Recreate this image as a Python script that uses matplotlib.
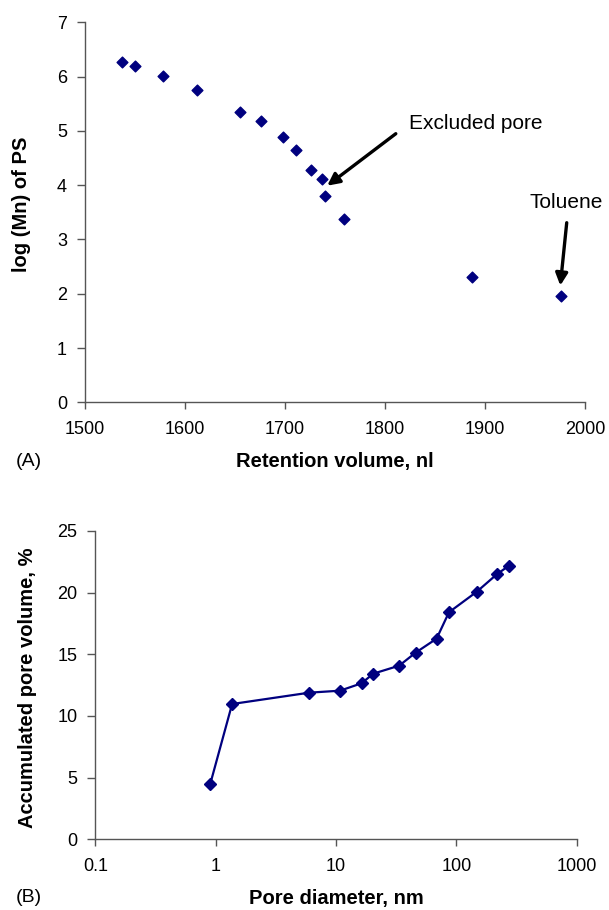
import numpy as np
import matplotlib
matplotlib.use("Agg")
import matplotlib.pyplot as plt

plt.rcParams['font.family'] = ['Liberation Sans', 'DejaVu Sans']

# Panel A: retention volume vs log(Mn) of PS standards
retention_nl = [1537, 1550, 1578, 1612, 1655, 1676, 1698, 1711, 1726, 1737,
                1740, 1759, 1887, 1976]
log_mn = [6.27, 6.20, 6.02, 5.75, 5.35, 5.18, 4.88, 4.64, 4.28, 4.12,
          3.80, 3.38, 2.31, 1.96]

# Panel B: accumulated pore volume vs pore diameter
pore_diam_nm = [0.90, 1.37, 6.0, 10.8, 16.3, 20.4, 33.5, 45.8, 68.5, 86.8,
                148, 217, 272]
acc_volume = [4.46, 10.97, 11.89, 12.05, 12.65, 13.43, 14.08, 15.13, 16.27,
              18.41, 20.08, 21.49, 22.17]

navy = '#00007f'
spine_col = '#555555'


def style_axes(ax):
    for s in ['top', 'right']:
        ax.spines[s].set_visible(False)
    for s in ['left', 'bottom']:
        ax.spines[s].set_color(spine_col)
        ax.spines[s].set_linewidth(1.0)
    ax.tick_params(direction='out', width=1.0, color=spine_col, labelsize=13)
    ax.tick_params(axis='x', length=5, pad=8.5)
    ax.tick_params(axis='y', length=6, pad=7)


fig = plt.figure(figsize=(6.09, 9.10), dpi=100)

# (A)
ax1 = fig.add_axes([0.1396, 0.5579, 0.821, 0.4175])
ax1.scatter(retention_nl, log_mn, marker='D', s=30, color=navy, zorder=3)
ax1.set_xlim(1500, 2000)
ax1.set_ylim(0, 7)
ax1.set_xticks(np.arange(1500, 2001, 100))
ax1.set_yticks(np.arange(0, 8, 1))
style_axes(ax1)
ax1.set_xlabel('Retention volume, nl', fontsize=14.5, fontweight='bold', labelpad=10)
ax1.set_ylabel('log (Mn) of PS', fontsize=14.5, fontweight='bold')
ax1.yaxis.set_label_coords(-0.108, 0.52)

ax1.annotate('', xy=(1740, 3.96), xytext=(1813, 4.98),
             arrowprops=dict(arrowstyle='-|>', color='black', lw=2.4,
                             mutation_scale=18))
ax1.text(1891, 5.14, 'Excluded pore', fontsize=15, ha='center', va='center')
ax1.annotate('', xy=(1975, 2.10), xytext=(1982, 3.36),
             arrowprops=dict(arrowstyle='-|>', color='black', lw=2.4,
                             mutation_scale=18))
ax1.text(1981, 3.69, 'Toluene', fontsize=15, ha='center', va='center')

fig.text(16 / 609, 1 - 462 / 910, '(A)', fontsize=14, ha='left', va='center')

# (B)
ax2 = fig.add_axes([0.1565, 0.0777, 0.7905, 0.3388])
ax2.plot(pore_diam_nm, acc_volume, color=navy, lw=1.6, marker='D',
         markersize=6, zorder=3)
ax2.set_xscale('log')
ax2.set_xlim(0.1, 1000)
ax2.set_ylim(0, 25)
ax2.set_xticks([0.1, 1, 10, 100, 1000])
ax2.set_xticklabels(['0.1', '1', '10', '100', '1000'])
ax2.minorticks_off()
ax2.set_yticks(np.arange(0, 26, 5))
style_axes(ax2)
ax2.set_xlabel('Pore diameter, nm', fontsize=14.5, fontweight='bold', labelpad=10)
ax2.set_ylabel('Accumulated pore volume, %', fontsize=14.5, fontweight='bold')
ax2.yaxis.set_label_coords(-0.122, 0.49)

fig.text(16 / 609, 1 - 897 / 910, '(B)', fontsize=14, ha='left', va='center')

fig.savefig('out.png', dpi=100)
